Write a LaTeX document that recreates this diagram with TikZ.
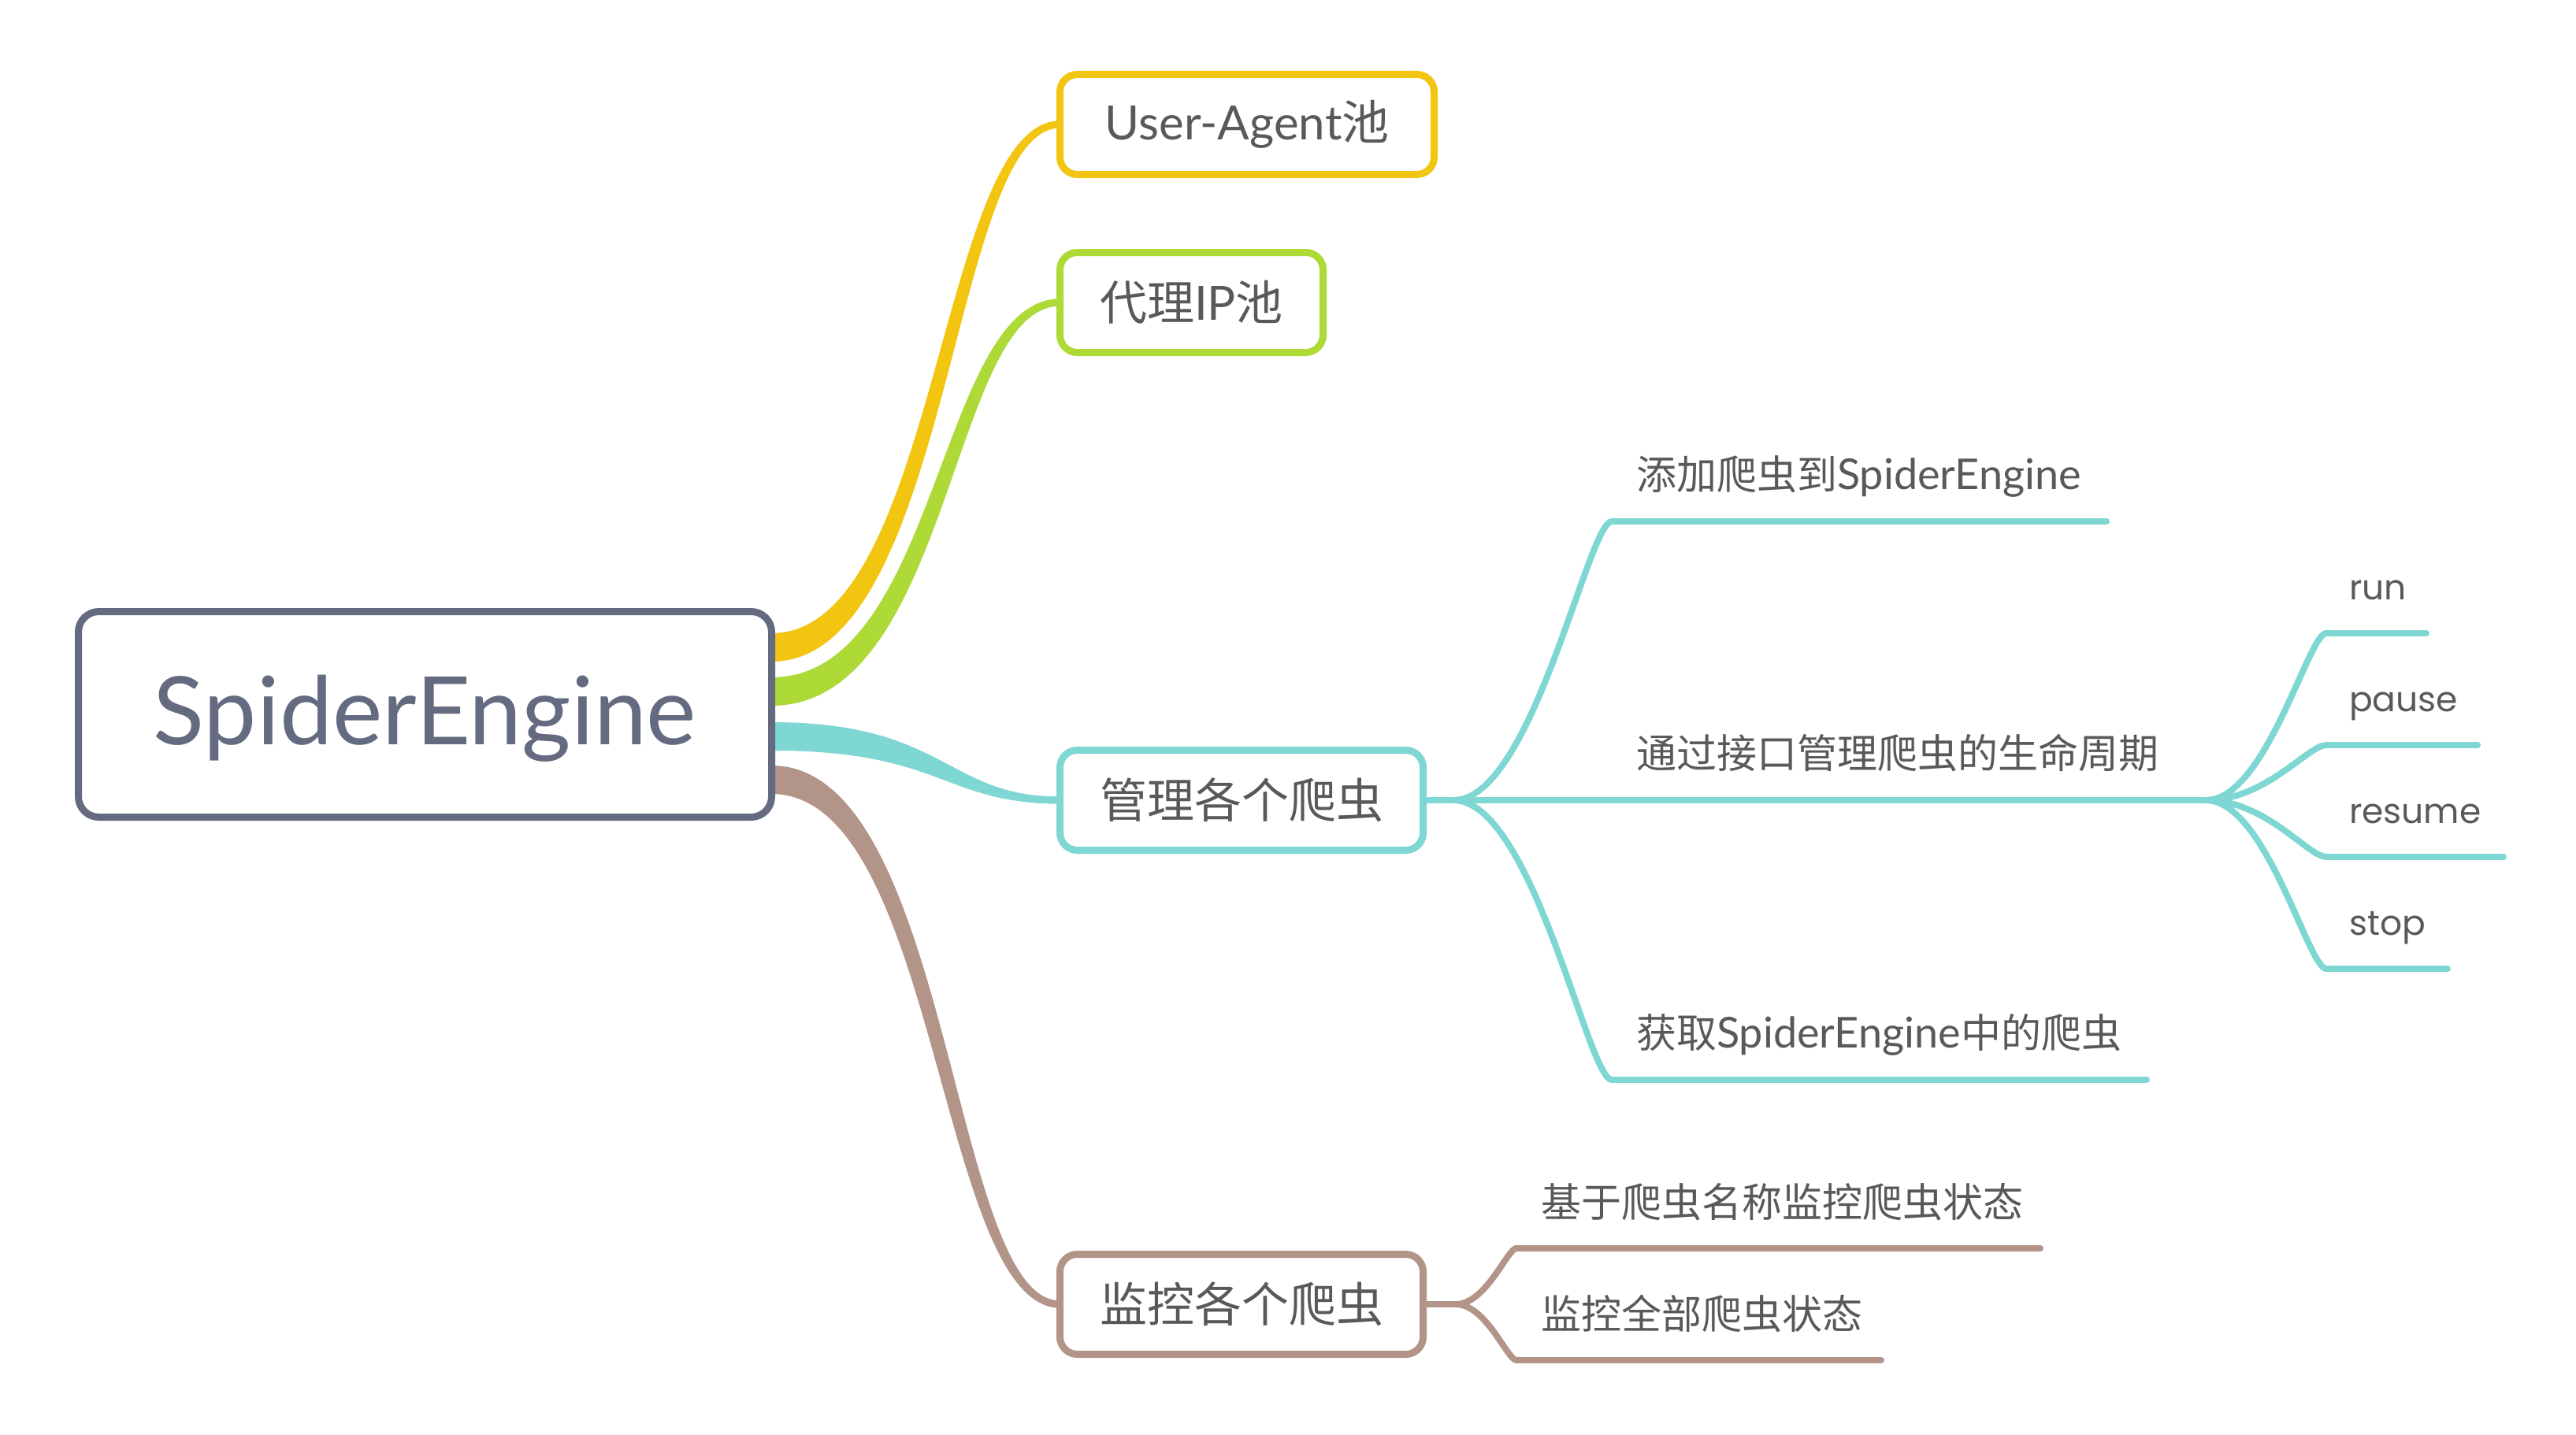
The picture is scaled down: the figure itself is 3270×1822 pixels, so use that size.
\documentclass[tikz,border=0pt]{standalone}
\usepackage{fontspec}
\setmainfont{Lato}
\newfontfamily\cjk{Noto Sans CJK SC}
\newfontfamily\lat{Lato}
\newfontfamily\mont{Poppins}
\usetikzlibrary{calc,backgrounds}
\definecolor{slate}{HTML}{646B80}
\definecolor{yel}{HTML}{F2C511}
\definecolor{grn}{HTML}{ADDA36}
\definecolor{tea}{HTML}{7ED7D3}
\definecolor{brn}{HTML}{B39489}
\definecolor{txt}{HTML}{595959}
\tikzset{
  centralbox/.style={draw=slate, line width=9pt, fill=white, rounded corners=26pt,
    minimum width=880pt, minimum height=261pt, inner sep=0pt, outer sep=0pt,
    text height=100pt, text depth=24pt,
    text=slate, font=\fontsize{120}{140}\selectfont\lat},
  topicbox/.style={draw=#1, line width=9pt, fill=white, rounded corners=22pt,
    minimum height=127pt, inner sep=0pt, outer sep=0pt,
    text=txt, font=\fontsize{60}{70}\selectfont\cjk},
  leaftext/.style={anchor=base west, inner sep=0pt, outer sep=0pt,
    text=txt, font=\fontsize{51}{60}\selectfont\cjk},
  cmdtext/.style={anchor=base west, inner sep=0pt, outer sep=0pt,
    text=txt, font=\fontsize{44}{50}\selectfont\mont},
  twig/.style={draw=#1, line width=8pt, line cap=round},
}
\newcommand\latin[1]{{\lat\fontsize{54}{60}\selectfont #1}}
% tapered ribbon: colour, start, end, half width at start, half width at end, shift of the upper edge controls
\newcommand\ribbon[6]{%
  \fill[#1] let \p1=(#2), \p2=(#3), \n1={0.6*(\x2-\x1)} in
    (\x1,{\y1+#4}) .. controls ({\x1+\n1+#6},{\y1+#4}) and ({\x1+\n1+#6},{\y2+#5}) .. (\x2,{\y2+#5})
    -- (\x2,{\y2-#5}) .. controls ({\x1+\n1-#6},{\y2-#5}) and ({\x1+\n1-#6},{\y1-#4}) .. (\x1,{\y1-#4}) -- cycle;
  \draw[#1, line width=9pt] let \p1=(#2), \p2=(#3), \n1={0.6*(\x2-\x1)} in
    (\p1) .. controls ({\x1+\n1},\y1) and ({\x1+\n1},\y2) .. (\p2);}
% thin branch curve
\newcommand\twigcurve[3]{%
  \draw[twig=#1] let \p1=(#2), \p2=(#3) in
    (\p1) .. controls ({\x1+0.5*(\x2-\x1)},\y1) and ({\x1+0.85*(\x2-\x1)},\y2) .. (\p2);}
\begin{document}
\begin{tikzpicture}[x=1pt,y=-1pt]
\useasboundingbox (0,0) rectangle (3270,1822);

% main topics
\node[centralbox] (main) at (539.5,907) {SpiderEngine};
\node[topicbox=yel, minimum width=475pt] (ua) at (1583,158) {{\lat User-Agent}池};
\node[topicbox=grn, minimum width=334pt] (ip) at (1512.5,384) {代理{\lat IP}池};
\node[topicbox=tea, minimum width=461pt] (mg) at (1576,1016) {管理各个爬虫};
\node[topicbox=brn, minimum width=461pt] (mo) at (1576,1656) {监控各个爬虫};

% branch points of the manage subtree
\coordinate (mgfork) at (1845,1016);
\coordinate (addS) at (2046,662);  \coordinate (addE) at (2674,662);
\coordinate (life) at (2800,1016);
\coordinate (getS) at (2046,1371); \coordinate (getE) at (2725,1371);
\coordinate (runS) at (2953,804);     \coordinate (runE) at (3080,804);
\coordinate (pauseS) at (2953,946);   \coordinate (pauseE) at (3145,946);
\coordinate (resumeS) at (2953,1088); \coordinate (resumeE) at (3178,1088);
\coordinate (stopS) at (2953,1230);   \coordinate (stopE) at (3107,1230);
% branch points of the monitor subtree
\coordinate (mofork) at (1848,1656);
\coordinate (nameS) at (1925,1585); \coordinate (nameE) at (2590,1585);
\coordinate (allS) at (1925,1727);  \coordinate (allE) at (2388,1727);

% texts
\node[leaftext] (tadd) at ($(addS)+(31,-41)$) {添加爬虫到\latin{SpiderEngine}};
\node[leaftext] (tlife) at (2077,975) {通过接口管理爬虫的生命周期};
\node[leaftext] (tget) at ($(getS)+(31,-41)$) {获取\latin{SpiderEngine}中的爬虫};
\node[cmdtext] (trun) at ($(runS)+(29,-43)$) {run};
\node[cmdtext] (tpause) at ($(pauseS)+(29,-43)$) {pause};
\node[cmdtext] (tresume) at ($(resumeS)+(29,-43)$) {resume};
\node[cmdtext] (tstop) at ($(stopS)+(29,-43)$) {stop};
\node[leaftext] (tname) at ($(nameS)+(31,-40)$) {基于爬虫名称监控爬虫状态};
\node[leaftext] (tall) at ($(allS)+(31,-40)$) {监控全部爬虫状态};

\begin{scope}[on background layer]
  \fill[white] (0,0) rectangle (3270,1822);
  \ribbon{yel}{$(main.east)+(0,-85)$}{ua.west}{18}{4.5}{-8}
  \ribbon{grn}{$(main.east)+(0,-29)$}{ip.west}{18}{4.5}{-8}
  \ribbon{tea}{$(main.east)+(0,28)$}{mg.west}{18}{4.5}{2}
  \ribbon{brn}{$(main.east)+(0,83)$}{mo.west}{18}{4.5}{8}

  % manage subtree
  \draw[twig=tea] (mg.east) -- (life);
  \twigcurve{tea}{mgfork}{addS}
  \twigcurve{tea}{mgfork}{getS}
  \draw[twig=tea] (addS) -- (addE);
  \draw[twig=tea] (getS) -- (getE);
  \twigcurve{tea}{life}{runS}
  \twigcurve{tea}{life}{pauseS}
  \twigcurve{tea}{life}{resumeS}
  \twigcurve{tea}{life}{stopS}
  \draw[twig=tea] (runS) -- (runE);
  \draw[twig=tea] (pauseS) -- (pauseE);
  \draw[twig=tea] (resumeS) -- (resumeE);
  \draw[twig=tea] (stopS) -- (stopE);

  % monitor subtree
  \draw[twig=brn] (mo.east) -- (mofork);
  \twigcurve{brn}{mofork}{nameS}
  \twigcurve{brn}{mofork}{allS}
  \draw[twig=brn] (nameS) -- (nameE);
  \draw[twig=brn] (allS) -- (allE);
\end{scope}
\end{tikzpicture}
\end{document}
